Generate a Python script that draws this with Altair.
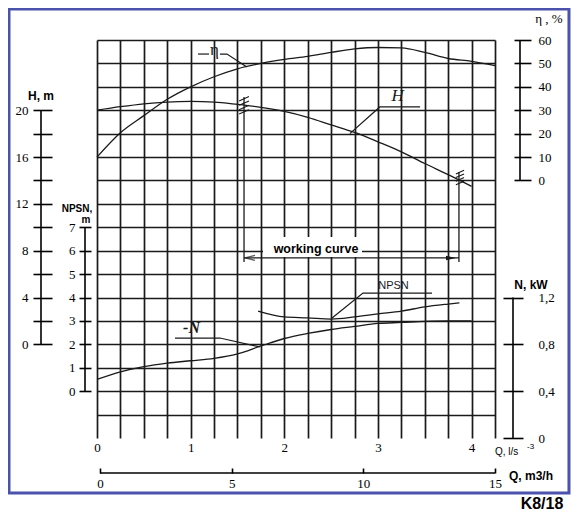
import altair as alt
import pandas as pd

SERIF = "Liberation Serif"
SANS = "Liberation Sans"
INK = "#1a1a1a"
FRAME = "#4b52ab"

# ---------------- values ----------------
Q = [0, 0.25, 0.5, 0.75, 1.0, 1.25, 1.5, 1.75, 2.0, 2.25, 2.5, 2.75, 3.0, 3.25, 3.5, 3.75, 4.0]
HEAD = [20.0, 20.3, 20.55, 20.7, 20.75, 20.7, 20.5, 20.25, 19.9, 19.4, 18.75, 18.1, 17.3, 16.45, 15.45, 14.5, 13.5]
POWER = [0.50, 0.565, 0.61, 0.64, 0.66, 0.68, 0.718, 0.786, 0.85, 0.893, 0.927, 0.953, 0.979, 0.987, 0.996, 1.0, 1.0]
Q_ETA = [0, 0.25, 0.5, 0.75, 1.0, 1.25, 1.5, 1.75, 2.0, 2.25, 2.5, 2.75, 3.0, 3.25, 3.5, 3.75, 4.0, 4.25]
EFF = [10.0, 20.4, 27.7, 34.7, 40.0, 44.3, 47.7, 50.0, 51.7, 53.0, 54.7, 56.2, 56.8, 56.6, 54.7, 52.1, 50.9, 49.1]
Q_NPSN = [1.72, 2.0, 2.25, 2.5, 2.75, 3.0, 3.25, 3.5, 3.75, 3.87]
NPSN = [3.42, 3.17, 3.13, 3.08, 3.17, 3.30, 3.42, 3.60, 3.72, 3.77]

# working range of the pump, l/s, and the head levels of its bracket
WORK_Q = [1.57, 3.865]
WORK_TOP = [21.13, 14.73]
WORK_BOTTOM = [7.04, 7.04]
WORK_LINE_H = 7.38

# ---------------- tick values / scale domains ----------------
Q_TICKS = [i * 0.25 for i in range(18)]
H_GRID = list(range(-6, 27, 2))
H_TICKS = list(range(0, 21, 2))
NPSN_TICKS = list(range(0, 8))
ETA_TICKS = list(range(0, 61, 10))
N_TICKS = [0, 0.4, 0.8, 1.2]
QM_TICKS = [0, 5, 10, 15]

q_scale = alt.Scale(domain=[0, 4.25], nice=False, zero=False)
qm_scale = alt.Scale(domain=[-3 * 15 / 395, 15], nice=False, zero=False)
h_scale = alt.Scale(domain=[-8, 26], nice=False, zero=False)
eta_scale = alt.Scale(domain=[-110, 60], nice=False, zero=False)
n_scale = alt.Scale(domain=[0, 3.4], nice=False, zero=False)
npsn_scale = alt.Scale(domain=[-2, 15], nice=False, zero=False)

label_style = dict(labelFont=SERIF, labelFontSize=13, labelColor="black",
                   tickColor="black", tickWidth=1.6, domain=False, grid=False, title="")

# ---------------- curves ----------------
df_h = pd.DataFrame({"Q": Q, "H": HEAD})
df_n = pd.DataFrame({"Q": Q, "N": POWER})
df_eta = pd.DataFrame({"Q": Q_ETA, "eta": EFF})
df_npsn = pd.DataFrame({"Q": Q_NPSN, "npsn": NPSN})

line_kw = dict(color=INK, strokeWidth=1.3, interpolate="monotone")

h_line = alt.Chart(df_h).mark_line(**line_kw).encode(
    x=alt.X("Q:Q", scale=q_scale, axis=alt.Axis(
        orient="bottom", values=Q_TICKS, grid=True, gridColor=INK, gridWidth=1.7, gridOpacity=1,
        ticks=False, domain=False, labelFlush=False, labelPadding=3,
        labelExpr="datum.value % 1 == 0 ? format(datum.value, 'd') : ''",
        labelFont=SERIF, labelFontSize=13, labelColor="black", title="")),
    y=alt.Y("H:Q", scale=h_scale, axis=alt.Axis(
        orient="left", values=H_GRID, grid=True, gridColor=INK, gridWidth=1.7, gridOpacity=1,
        labels=False, ticks=False, domain=False, title="")),
)
eta_line = alt.Chart(df_eta).mark_line(**line_kw).encode(
    x=alt.X("Q:Q", scale=q_scale, axis=None),
    y=alt.Y("eta:Q", scale=eta_scale, axis=None),
)
n_line = alt.Chart(df_n).mark_line(**line_kw).encode(
    x=alt.X("Q:Q", scale=q_scale, axis=None),
    y=alt.Y("N:Q", scale=n_scale, axis=None),
)
npsn_line = alt.Chart(df_npsn).mark_line(**line_kw).encode(
    x=alt.X("Q:Q", scale=q_scale, axis=None),
    y=alt.Y("npsn:Q", scale=npsn_scale, axis=None),
)

# ---------------- separate axes ----------------
def vaxis(lo, hi, scale, xpix, axis):
    return alt.Chart(pd.DataFrame({"lo": [lo], "hi": [hi]})).mark_rule(
        color="black", strokeWidth=1.6).encode(
        x=alt.value(xpix),
        y=alt.Y("lo:Q", scale=scale, axis=axis),
        y2="hi:Q",
    )

h_axis = vaxis(H_TICKS[0], H_TICKS[-1], h_scale, -56, alt.Axis(
    orient="left", offset=45, values=H_TICKS, tickSize=19, labelPadding=5,
    labelExpr="datum.value % 4 == 0 ? datum.label : ''", **label_style))
npsn_axis = vaxis(NPSN_TICKS[0], NPSN_TICKS[-1], npsn_scale, -12, alt.Axis(
    orient="left", offset=6, values=NPSN_TICKS, tickSize=12, labelPadding=4, **label_style))
eta_axis = vaxis(ETA_TICKS[0], ETA_TICKS[-1], eta_scale, 423, alt.Axis(
    orient="right", offset=19, values=ETA_TICKS, tickSize=17, labelPadding=7, **label_style))
n_axis = vaxis(N_TICKS[0], N_TICKS[-1], n_scale, 416, alt.Axis(
    orient="right", offset=8, values=N_TICKS, tickSize=20, labelPadding=15,
    labelExpr="datum.value == 0 ? '0' : replace(format(datum.value, '.1f'), '.', ',')", **label_style))

qm_axis = alt.Chart(pd.DataFrame({"lo": [QM_TICKS[0]], "hi": [QM_TICKS[-1]]})).mark_rule(
    color="black", strokeWidth=1.4).encode(
    x=alt.X("lo:Q", scale=qm_scale, axis=alt.Axis(
        orient="bottom", offset=30, values=QM_TICKS, tickSize=5, labelPadding=4,
        labelFlush=False, **label_style)),
    x2="hi:Q",
    y=alt.value(433),
)

# ---------------- annotations ----------------
def leader(qs, vs, field, scale):
    df = pd.DataFrame({"Q": [p for seg in qs for p in seg],
                       field: [v for seg in vs for v in seg],
                       "seg": [k for k, seg in enumerate(qs) for _ in seg],
                       "i": list(range(sum(len(s) for s in qs)))})
    return alt.Chart(df).mark_line(color=INK, strokeWidth=1.2).encode(
        x=alt.X("Q:Q", scale=q_scale, axis=None),
        y=alt.Y(f"{field}:Q", scale=scale, axis=None),
        detail="seg:N", order="i:Q")

def tag(txt, q, v, field, scale, **kw):
    return alt.Chart(pd.DataFrame({"t": [txt], "Q": [q], field: [v]})).mark_text(**kw).encode(
        text="t:N",
        x=alt.X("Q:Q", scale=q_scale, axis=None),
        y=alt.Y(f"{field}:Q", scale=scale, axis=None))

eta_lead = leader([[1.078, 1.196], [1.313, 1.388, 1.60]], [[54, 54], [54, 54, 48.5]], "eta", eta_scale)
eta_tag = tag("η", 1.255, 55.8, "eta", eta_scale, font=SERIF, fontSize=17, color=INK, baseline="middle")
h_lead = leader([[2.70, 3.02, 3.45]], [[18.0, 20.28, 20.28]], "H", h_scale)
h_tag = tag("H", 3.21, 21.2, "H", h_scale, font=SERIF, fontSize=17, fontStyle="italic", color=INK, baseline="middle")
n_lead = leader([[0.833, 1.313, 1.74]], [[0.854, 0.854, 0.778]], "N", n_scale)
n_tag = tag("-N", 1.009, 0.94, "N", n_scale, font=SERIF, fontSize=16, fontStyle="italic",
            fontWeight="bold", color=INK, baseline="middle")
npsn_lead = leader([[2.51, 2.84, 3.577]], [[3.126, 4.19, 4.19]], "npsn", npsn_scale)
npsn_tag = tag("NPSN", 3.166, 4.49, "npsn", npsn_scale, font=SANS, fontSize=11, color=INK, baseline="middle")

df_work = pd.DataFrame({"Q": WORK_Q, "top": WORK_TOP, "bottom": WORK_BOTTOM})
work_vert = alt.Chart(df_work).mark_rule(color=INK, strokeWidth=1.3).encode(
    x=alt.X("Q:Q", scale=q_scale, axis=None),
    y=alt.Y("top:Q", scale=h_scale, axis=None), y2="bottom:Q")
work_horiz = alt.Chart(pd.DataFrame({"a": [WORK_Q[0]], "b": [WORK_Q[1]], "h": [WORK_LINE_H]})).mark_rule(
    color=INK, strokeWidth=1.3).encode(
    x=alt.X("a:Q", scale=q_scale, axis=None), x2="b:Q",
    y=alt.Y("h:Q", scale=h_scale, axis=None))
arrow_l = alt.Chart(pd.DataFrame({"Q": [1.634], "h": [WORK_LINE_H]})).mark_point(
    shape="M1,-0.5L-1,0L1,0.5", size=100, filled=False, color=INK, strokeWidth=1.3).encode(
    x=alt.X("Q:Q", scale=q_scale, axis=None), y=alt.Y("h:Q", scale=h_scale, axis=None))
arrow_r = alt.Chart(pd.DataFrame({"Q": [3.78], "h": [WORK_LINE_H]})).mark_point(
    shape="M-1,-0.45L1,0L-1,0.45Z", size=100, filled=True, color=INK, opacity=1).encode(
    x=alt.X("Q:Q", scale=q_scale, axis=None), y=alt.Y("h:Q", scale=h_scale, axis=None))
hatch_path = "M-0.45,-0.55L0.45,-0.95M-0.45,-0.15L0.45,-0.55M-0.45,0.25L0.45,-0.15M-0.45,0.65L0.45,0.25"
hatch = alt.Chart(pd.DataFrame({"Q": [1.57, 3.876], "h": [20.28, 14.13], "s": [480, 330]})).mark_point(
    shape=hatch_path, filled=False, color=INK, strokeWidth=1.1, opacity=1).encode(
    x=alt.X("Q:Q", scale=q_scale, axis=None), y=alt.Y("h:Q", scale=h_scale, axis=None),
    size=alt.Size("s:Q", scale=None, legend=None))

def ptext(txt, x, y, baseline="middle", **kw):
    return alt.Chart(pd.DataFrame({"t": [txt]})).mark_text(baseline=baseline, color="black", **kw).encode(
        text="t:N", x=alt.value(x), y=alt.value(y))

work_box = alt.Chart(pd.DataFrame({"k": [0]})).mark_rect(color="white", opacity=1).encode(
    x=alt.value(166), x2=alt.value(265), y=alt.value(197), y2=alt.value(217))
work_text = ptext("working curve", 219, 209, font=SANS, fontSize=12.5, fontWeight="bold")

# blue frame round the drawing, placed through the Q and H scales
FRAME_Q = [-0.9397, 5.04]      # left / right edge of the frame in l/s units
FRAME_H = [28.65, -12.70]      # top / bottom edge of the frame in m units
frame = alt.Chart(pd.DataFrame({"q0": [FRAME_Q[0]], "q1": [FRAME_Q[1]],
                                "h0": [FRAME_H[0]], "h1": [FRAME_H[1]]})).mark_rect(
    fillOpacity=0, stroke=FRAME, strokeWidth=3).encode(
    x=alt.X("q0:Q", scale=q_scale, axis=None), x2="q1:Q",
    y=alt.Y("h0:Q", scale=h_scale, axis=None), y2="h1:Q")

titles = [
    ptext("H, m", -56, 56, font=SANS, fontSize=12, fontWeight="bold"),
    ptext("NPSN,", -20, 169, font=SANS, fontSize=10, fontWeight="bold"),
    ptext("m", -11, 180, font=SANS, fontSize=10, fontWeight="bold"),
    ptext("η , %", 452, -21, font=SERIF, fontSize=13),
    ptext("N, kW", 434, 245, font=SANS, fontSize=12, fontWeight="bold"),
    ptext("Q, l/s", 398, 412, font=SANS, fontSize=10, align="left"),
    ptext("-3", 430, 407, font=SANS, fontSize=8, align="left"),
    ptext("Q, m3/h", 434, 436, font=SANS, fontSize=12, fontWeight="bold"),
    ptext("K8/18", 445, 469, baseline="alphabetic", font=SANS, fontSize=16, fontWeight="bold"),
]

chart = alt.layer(
    frame, h_line, eta_line, n_line, npsn_line,
    h_axis, npsn_axis, eta_axis, n_axis, qm_axis,
    eta_lead, eta_tag, h_lead, h_tag, n_lead, n_tag, npsn_lead, npsn_tag,
    work_vert, work_horiz, arrow_l, arrow_r, hatch, work_box, work_text,
    *titles,
).resolve_scale(
    x="independent", y="independent", size="independent"
).resolve_axis(
    x="independent", y="independent"
).properties(
    width=398, height=398,
    autosize=alt.AutoSizeParams(type="none"),
    padding={"left": 89, "top": 32, "right": 77, "bottom": 75},
    background="white",
).configure_view(stroke="transparent")

chart.save("out.html", embed_options={"renderer": "svg", "actions": False})
